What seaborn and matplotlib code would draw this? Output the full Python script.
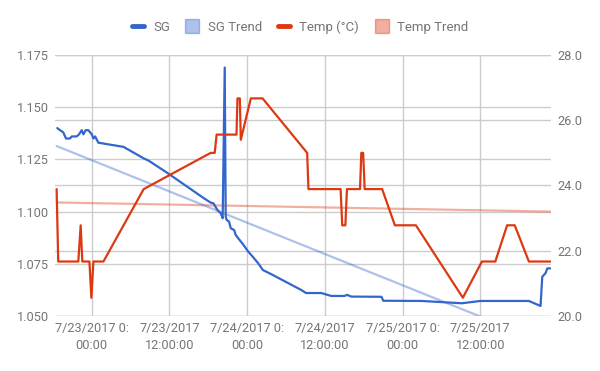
import matplotlib
matplotlib.use("Agg")
import matplotlib.pyplot as plt
import matplotlib.dates as mdates
from matplotlib.lines import Line2D
import seaborn as sns
import pandas as pd

# ---------------- data ----------------
sg_times = [
    "2017-07-22 18:40", "2017-07-22 19:05", "2017-07-22 19:35", "2017-07-22 20:01",
    "2017-07-22 20:38", "2017-07-22 20:54", "2017-07-22 21:40", "2017-07-22 22:02",
    "2017-07-22 22:27", "2017-07-22 22:42", "2017-07-22 23:04", "2017-07-22 23:28",
    "2017-07-23 00:00", "2017-07-23 00:15", "2017-07-23 00:31", "2017-07-23 01:01",
    "2017-07-23 04:54", "2017-07-23 08:01", "2017-07-23 08:47", "2017-07-23 11:38",
    "2017-07-23 17:19", "2017-07-23 18:22", "2017-07-23 18:47", "2017-07-23 19:24",
    "2017-07-23 19:55", "2017-07-23 20:13", "2017-07-23 20:32", "2017-07-23 20:41",
    "2017-07-23 20:50", "2017-07-23 21:12", "2017-07-23 21:28", "2017-07-23 21:59",
    "2017-07-23 22:14", "2017-07-23 22:45", "2017-07-23 23:20", "2017-07-24 00:06",
    "2017-07-24 00:53", "2017-07-24 01:40", "2017-07-24 02:26", "2017-07-24 03:41",
    "2017-07-24 06:00", "2017-07-24 08:20", "2017-07-24 09:06", "2017-07-24 11:26",
    "2017-07-24 12:13", "2017-07-24 12:59", "2017-07-24 15:00", "2017-07-24 15:28",
    "2017-07-24 16:05", "2017-07-24 20:45", "2017-07-24 21:01", "2017-07-25 02:58",
    "2017-07-25 09:11", "2017-07-25 12:00", "2017-07-25 19:31", "2017-07-25 21:19",
    "2017-07-25 21:35", "2017-07-25 22:05", "2017-07-25 22:22", "2017-07-25 22:52",
]
sg_values = [
    1.140, 1.139, 1.138, 1.135, 1.135, 1.136, 1.136, 1.137,
    1.139, 1.137, 1.139, 1.139, 1.137, 1.135, 1.136, 1.133,
    1.131, 1.1255, 1.1244, 1.1186, 1.1064, 1.1043, 1.1040, 1.1008,
    1.0992, 1.0968, 1.169, 1.0976, 1.0960, 1.0952, 1.0920, 1.0912,
    1.0888, 1.0867, 1.0845, 1.0811, 1.0783, 1.0754, 1.0720, 1.0701,
    1.0663, 1.0625, 1.0610, 1.0610, 1.0603, 1.0596, 1.0596, 1.0601,
    1.0593, 1.0592, 1.0573, 1.0572, 1.0561, 1.0572, 1.0572, 1.0548,
    1.0688, 1.0705, 1.0728, 1.0728,
]

temp_times = [
    "2017-07-22 18:34", "2017-07-22 18:49", "2017-07-22 21:55", "2017-07-22 22:17",
    "2017-07-22 22:32", "2017-07-22 23:38", "2017-07-22 23:56", "2017-07-23 00:15",
    "2017-07-23 01:48", "2017-07-23 08:01", "2017-07-23 18:22", "2017-07-23 18:59",
    "2017-07-23 19:17", "2017-07-23 22:21", "2017-07-23 22:30", "2017-07-23 22:52",
    "2017-07-23 23:01", "2017-07-24 00:34", "2017-07-24 02:23", "2017-07-24 09:16",
    "2017-07-24 09:28", "2017-07-24 14:26", "2017-07-24 14:41", "2017-07-24 15:10",
    "2017-07-24 15:25", "2017-07-24 17:26", "2017-07-24 17:38", "2017-07-24 17:55",
    "2017-07-24 18:09", "2017-07-24 20:51", "2017-07-24 22:49", "2017-07-25 02:04",
    "2017-07-25 09:19", "2017-07-25 12:16", "2017-07-25 14:20", "2017-07-25 16:09",
    "2017-07-25 17:20", "2017-07-25 19:31", "2017-07-25 22:52",
]
temp_values = [
    23.89, 21.67, 21.67, 22.78, 21.67, 21.67, 20.56, 21.67,
    21.67, 23.89, 25.00, 25.00, 25.56, 25.56, 26.67, 26.67,
    25.40, 26.67, 26.67, 25.00, 23.89, 23.89, 22.78, 22.78,
    23.89, 23.89, 25.00, 25.00, 23.89, 23.89, 22.78, 22.78,
    20.56, 21.67, 21.67, 22.78, 22.78, 21.67, 21.67,
]

trend_times = ["2017-07-22 18:34", "2017-07-25 22:52"]
sg_trend_values = [1.1314, 1.0362]
temp_trend_values = [23.48, 23.20]

x_ticks = ["2017-07-23 00:00", "2017-07-23 12:00", "2017-07-24 00:00",
           "2017-07-24 12:00", "2017-07-25 00:00", "2017-07-25 12:00"]
x_tick_labels = ["7/23/2017 0:\n00:00", "7/23/2017\n12:00:00", "7/24/2017 0:\n00:00",
                 "7/24/2017\n12:00:00", "7/25/2017 0:\n00:00", "7/25/2017\n12:00:00"]
x_range = ["2017-07-22 18:19", "2017-07-25 22:56"]
sg_ticks = [1.050, 1.075, 1.100, 1.125, 1.150, 1.175]
temp_ticks = [20.0, 22.0, 24.0, 26.0, 28.0]
series_names = ["SG", "SG Trend", "Temp (°C)", "Temp Trend"]

# ---------------- style ----------------
sns.set_theme(style="white")
plt.rcParams["font.family"] = ["Roboto", "DejaVu Sans"]
TXT = "#757575"
GRID = "#cccccc"
BLUE = "#3366cc"
RED = "#dc3912"
FS = 9.2

sg_df = pd.DataFrame({"time": pd.to_datetime(sg_times), "value": sg_values})
temp_df = pd.DataFrame({"time": pd.to_datetime(temp_times), "value": temp_values})
trend_df = pd.DataFrame({"time": pd.to_datetime(trend_times),
                         "sg": sg_trend_values, "temp": temp_trend_values})
xt = pd.to_datetime(x_ticks)
xr = pd.to_datetime(x_range)

fig = plt.figure(figsize=(6.0, 3.71), dpi=100)
rect = [55 / 600, 1 - 316 / 371, 496 / 600, 261 / 371]

def blank(a):
    a.patch.set_visible(False)
    for s in a.spines.values():
        s.set_visible(False)

# grid axes (drawn below everything)
g1 = fig.add_axes(rect, zorder=0)
g1.set_xlim(xr[0], xr[1])
g1.set_ylim(sg_ticks[0], sg_ticks[-1])
g1.set_xticks(xt)
g1.set_yticks(sg_ticks)
g1.grid(True, color=GRID, linewidth=1.0)
g1.tick_params(labelbottom=False, labelleft=False, length=0)
for s in g1.spines.values():
    s.set_visible(False)
g1.set_facecolor("white")

g2 = fig.add_axes(rect, zorder=0.5, sharex=g1)
blank(g2)
g2.set_ylim(temp_ticks[0], temp_ticks[-1])
g2.set_yticks(temp_ticks)
g2.yaxis.grid(True, color=GRID, linewidth=1.0)
g2.xaxis.grid(False)
g2.tick_params(labelbottom=False, labelleft=False, length=0)

# temperature axis (right)
ax2 = fig.add_axes(rect, zorder=1, sharex=g1)
blank(ax2)
sns.lineplot(data=trend_df, x="time", y="temp", ax=ax2, color=RED, alpha=0.4,
             linewidth=1.6, estimator=None, sort=False)
# SG axis (left)
ax = fig.add_axes(rect, zorder=2, sharex=g1)
blank(ax)
sns.lineplot(data=trend_df, x="time", y="sg", ax=ax, color=BLUE, alpha=0.4,
             linewidth=1.6, estimator=None, sort=False)
sns.lineplot(data=sg_df, x="time", y="value", ax=ax, color=BLUE,
             linewidth=1.6, estimator=None, sort=False)

ax3 = fig.add_axes(rect, zorder=3, sharex=g1)
blank(ax3)
sns.lineplot(data=temp_df, x="time", y="value", ax=ax3, color=RED,
             linewidth=1.6, estimator=None, sort=False)
ax3.set_ylim(temp_ticks[0], temp_ticks[-1])
ax3.set_yticks([])
ax3.tick_params(labelbottom=False, length=0)
ax3.set_xlabel("")
ax3.set_ylabel("")
ax3.grid(False)

ax.set_ylim(sg_ticks[0], sg_ticks[-1])
ax.set_yticks(sg_ticks)
ax.set_yticklabels([f"{v:.3f}" for v in sg_ticks])
ax.set_xlim(xr[0], xr[1])
ax.set_xticks(xt)
ax.set_xticklabels(x_tick_labels)
ax.tick_params(axis="y", length=0, pad=4.5, labelsize=FS, labelcolor=TXT)
ax.tick_params(axis="x", length=0, pad=4, labelsize=FS, labelcolor=TXT)
for lab in ax.get_xticklabels():
    lab.set_linespacing(1.45)
    lab.set_multialignment("center")
ax.set_xlabel("")
ax.set_ylabel("")
ax.grid(False)

ax2.set_ylim(temp_ticks[0], temp_ticks[-1])
ax2.set_yticks(temp_ticks)
ax2.set_yticklabels([f"{v:.1f}" for v in temp_ticks])
ax2.yaxis.tick_right()
ax2.tick_params(axis="y", length=0, pad=4.5, labelsize=FS, labelcolor=TXT)
ax2.tick_params(labelbottom=False, axis="x", length=0)
ax2.set_xlabel("")
ax2.set_ylabel("")
ax2.grid(False)

for a in (g1, g2, ax, ax2, ax3):
    a.set_xlim(xr[0], xr[1])

handles = [
    Line2D([0], [0], color=BLUE, linewidth=3.5, solid_capstyle="round"),
    Line2D([0], [0], color=BLUE, alpha=0.4, marker="s", markersize=9.5, linestyle="none"),
    Line2D([0], [0], color=RED, linewidth=3.5, solid_capstyle="round"),
    Line2D([0], [0], color=RED, alpha=0.4, marker="s", markersize=9.5, linestyle="none"),
]
leg = fig.legend(handles, series_names, loc="center", bbox_to_anchor=(0.5, 1 - 27 / 371),
                 ncol=4, frameon=False, fontsize=FS + 0.3, handlelength=0.9,
                 handletextpad=0.7, columnspacing=1.25, labelcolor=TXT)

fig.savefig("out.png", dpi=100)
